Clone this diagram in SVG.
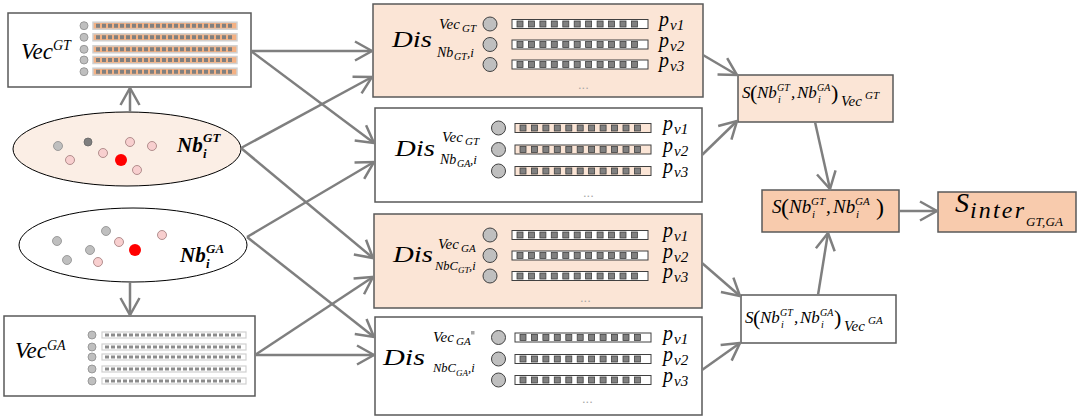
<svg xmlns="http://www.w3.org/2000/svg" xmlns:xlink="http://www.w3.org/1999/xlink" width="1079" height="417" viewBox="0 0 1079 417">
<style>
.bx{stroke:#595959;stroke-width:1.5}
.lt{fill:#FBE5D6}
.dk{fill:#F8CBAD}
.wh{fill:#FFFFFF}
.m{font-family:"Liberation Serif","DejaVu Serif",serif;font-style:italic;fill:#000}
.up{font-style:normal}
.bd{font-weight:bold}
.cn{fill:none;stroke:#7F7F7F;stroke-width:2.5;marker-end:url(#ah)}
.dots{font-family:"Liberation Sans",sans-serif;font-size:13px;fill:#A6A6A6}
.pc{fill:#BFBFBF;stroke:#404040;stroke-width:1}
.cell{fill:#808080;stroke:#404040;stroke-width:0.8}
.pk{fill:#F8CFCF;stroke:#A07878;stroke-width:0.8}
.gy{fill:#BFBFBF;stroke:#8C8C8C;stroke-width:0.8}
.dg{fill:#7F7F7F;stroke:#666666;stroke-width:0.8}
.rd{fill:#FF0000}
.p{font-size:20px}
.v{font-size:15px}
</style>
<defs>
<marker id="ah" markerUnits="userSpaceOnUse" viewBox="-20 -12 22 24" refX="0" refY="0" markerWidth="22" markerHeight="24" orient="auto">
<path d="M-17,-9.5 L0,0 L-17,9.5" fill="none" stroke="#7F7F7F" stroke-width="2.5"/>
</marker>
<!-- distance bar: 11 cells, frame fill taken from the <use> -->
<g id="bar">
<rect x="0" y="0" width="136" height="9" stroke="#404040" stroke-width="1"/>
<rect class="cell" x="5" y="1.5" width="6" height="6"/>
<rect class="cell" x="16.4" y="1.5" width="6" height="6"/>
<rect class="cell" x="27.9" y="1.5" width="6" height="6"/>
<rect class="cell" x="39.3" y="1.5" width="6" height="6"/>
<rect class="cell" x="50.8" y="1.5" width="6" height="6"/>
<rect class="cell" x="62.2" y="1.5" width="6" height="6"/>
<rect class="cell" x="73.6" y="1.5" width="6" height="6"/>
<rect class="cell" x="85.1" y="1.5" width="6" height="6"/>
<rect class="cell" x="96.5" y="1.5" width="6" height="6"/>
<rect class="cell" x="108" y="1.5" width="6" height="6"/>
<rect class="cell" x="119.4" y="1.5" width="6" height="6"/>
</g>
<!-- feature vector strip (orange) -->
<g id="vbar">
<rect x="0" y="0" width="144" height="7" fill="#F4B183" stroke="#D0D0D0" stroke-width="1.5"/>
<line x1="3" y1="3.5" x2="141" y2="3.5" stroke="#808080" stroke-width="4" stroke-dasharray="4 2"/>
</g>
<!-- feature vector strip (plain) -->
<g id="gbar">
<rect x="0" y="0" width="144" height="6" fill="#FFFFFF" stroke="#D0D0D0" stroke-width="1.2"/>
<line x1="3" y1="3" x2="141" y2="3" stroke="#8C8C8C" stroke-width="3" stroke-dasharray="4 2"/>
</g>
</defs>

<rect width="1079" height="417" fill="#FFFFFF"/>

<!-- Vec GT -->
<g id="vec-gt">
<rect class="bx wh" x="8" y="13" width="243" height="74"/>
<text class="m" font-size="23"><tspan x="21" y="59">Vec</tspan><tspan x="53" y="50" font-size="14">GT</tspan></text>
<circle class="gy" cx="84" cy="25.7" r="4"/>
<circle class="gy" cx="84" cy="37.3" r="4"/>
<circle class="gy" cx="84" cy="49.3" r="4"/>
<circle class="gy" cx="84" cy="60" r="4"/>
<circle class="gy" cx="84" cy="71.7" r="4"/>
<use xlink:href="#vbar" x="93" y="22.2"/>
<use xlink:href="#vbar" x="93" y="33.8"/>
<use xlink:href="#vbar" x="93" y="45.8"/>
<use xlink:href="#vbar" x="93" y="56.5"/>
<use xlink:href="#vbar" x="93" y="68.2"/>
</g>

<!-- Nb GT -->
<g id="nb-gt">
<ellipse cx="127" cy="149" rx="114" ry="37" fill="#FBEEE5" stroke="#000" stroke-width="1"/>
<circle class="gy" cx="58" cy="146" r="4.5"/>
<circle class="dg" cx="88" cy="142" r="4"/>
<circle class="pk" cx="70" cy="160" r="4.5"/>
<circle class="pk" cx="103" cy="153" r="4.5"/>
<circle class="pk" cx="130" cy="142" r="4.5"/>
<circle class="pk" cx="152" cy="146" r="4.5"/>
<circle class="pk" cx="137" cy="170" r="4.5"/>
<circle class="rd" cx="121" cy="160" r="6"/>
<text class="m bd" font-size="21"><tspan x="177" y="152">Nb</tspan><tspan x="203" y="142" font-size="13">GT</tspan><tspan x="203" y="158" font-size="13">i</tspan></text>
</g>

<!-- Nb GA -->
<g id="nb-ga">
<ellipse cx="133" cy="245" rx="114" ry="37" fill="#FFFFFF" stroke="#000" stroke-width="1"/>
<circle class="gy" cx="57" cy="241" r="4.5"/>
<circle class="gy" cx="106" cy="231" r="4.5"/>
<circle class="pk" cx="119" cy="242" r="4.5"/>
<circle class="gy" cx="90" cy="250" r="4.5"/>
<circle class="gy" cx="67" cy="260" r="4.5"/>
<circle class="pk" cx="98" cy="262" r="4.5"/>
<circle class="pk" cx="162" cy="235" r="4.5"/>
<circle class="rd" cx="135" cy="250" r="6"/>
<text class="m bd" font-size="21"><tspan x="180" y="262">Nb</tspan><tspan x="206" y="253" font-size="13">GA</tspan><tspan x="206" y="268" font-size="13">i</tspan></text>
</g>

<!-- Vec GA -->
<g id="vec-ga">
<rect class="bx wh" x="4" y="316" width="251" height="80"/>
<text class="m" font-size="23"><tspan x="15" y="358">Vec</tspan><tspan x="47" y="350" font-size="14">GA</tspan></text>
<circle class="gy" cx="92" cy="335" r="4"/>
<circle class="gy" cx="92" cy="347" r="4"/>
<circle class="gy" cx="92" cy="357" r="4"/>
<circle class="gy" cx="92" cy="369" r="4"/>
<circle class="gy" cx="92" cy="381" r="4"/>
<use xlink:href="#gbar" x="102" y="332"/>
<use xlink:href="#gbar" x="102" y="344"/>
<use xlink:href="#gbar" x="102" y="354"/>
<use xlink:href="#gbar" x="102" y="366"/>
<use xlink:href="#gbar" x="102" y="378"/>
</g>

<!-- Distance block 1 -->
<g id="dis-gt-gt">
<rect class="bx lt" x="373" y="4" width="330" height="93"/>
<text class="m"><tspan x="392" y="47" font-size="24" textLength="40" lengthAdjust="spacingAndGlyphs">Dis</tspan><tspan x="439" y="29" font-size="15">Vec</tspan><tspan x="462" y="32" font-size="11">GT</tspan><tspan x="437" y="57" font-size="14">Nb</tspan><tspan x="454" y="60" font-size="10">GT</tspan><tspan x="467" y="57" font-size="13">,i</tspan></text>
<circle class="pc" cx="490" cy="24" r="7"/>
<circle class="pc" cx="490" cy="44.5" r="7"/>
<circle class="pc" cx="490" cy="64.5" r="7"/>
<use xlink:href="#bar" x="512" y="19.5" fill="#FFFFFF"/>
<use xlink:href="#bar" x="512" y="40" fill="#FFFFFF"/>
<use xlink:href="#bar" x="512" y="60" fill="#FFFFFF"/>
<text class="m"><tspan class="p" x="659" y="26">p</tspan><tspan class="v" x="670" y="30">v1</tspan></text>
<text class="m"><tspan class="p" x="659" y="46.5">p</tspan><tspan class="v" x="670" y="50.5">v2</tspan></text>
<text class="m"><tspan class="p" x="659" y="66.5">p</tspan><tspan class="v" x="670" y="70.5">v3</tspan></text>
<text class="dots" x="578" y="89">...</text>
</g>

<!-- Distance block 2 -->
<g id="dis-gt-ga">
<rect class="bx wh" x="375" y="108" width="327" height="94"/>
<text class="m"><tspan x="395" y="156" font-size="24" textLength="40" lengthAdjust="spacingAndGlyphs">Dis</tspan><tspan x="442" y="142" font-size="15">Vec</tspan><tspan x="465" y="145" font-size="11">GT</tspan><tspan x="440" y="164" font-size="14">Nb</tspan><tspan x="457" y="167" font-size="10">GA</tspan><tspan x="470" y="164" font-size="13">,i</tspan></text>
<circle class="pc" cx="498.5" cy="128" r="7"/>
<circle class="pc" cx="498.5" cy="149.5" r="7"/>
<circle class="pc" cx="498.5" cy="171" r="7"/>
<use xlink:href="#bar" x="515" y="123.5" fill="#FBE5D6"/>
<use xlink:href="#bar" x="515" y="145" fill="#FBE5D6"/>
<use xlink:href="#bar" x="515" y="166.5" fill="#FBE5D6"/>
<text class="m"><tspan class="p" x="663" y="130">p</tspan><tspan class="v" x="674" y="134">v1</tspan></text>
<text class="m"><tspan class="p" x="663" y="151.5">p</tspan><tspan class="v" x="674" y="155.5">v2</tspan></text>
<text class="m"><tspan class="p" x="663" y="173">p</tspan><tspan class="v" x="674" y="177">v3</tspan></text>
<text class="dots" x="583" y="197">...</text>
</g>

<!-- Distance block 3 -->
<g id="dis-ga-gt">
<rect class="bx lt" x="374" y="214" width="328" height="94"/>
<text class="m"><tspan x="393" y="262" font-size="24" textLength="40" lengthAdjust="spacingAndGlyphs">Dis</tspan><tspan x="438" y="249" font-size="15">Vec</tspan><tspan x="461" y="252" font-size="11">GA</tspan><tspan x="435" y="270" font-size="12.5">NbC</tspan><tspan x="458" y="273" font-size="9">GT</tspan><tspan x="469" y="270" font-size="12.5">,i</tspan></text>
<circle class="pc" cx="490" cy="235" r="7"/>
<circle class="pc" cx="490" cy="255.5" r="7"/>
<circle class="pc" cx="490" cy="276" r="7"/>
<use xlink:href="#bar" x="512" y="230.5" fill="#FFFFFF"/>
<use xlink:href="#bar" x="512" y="251" fill="#FFFFFF"/>
<use xlink:href="#bar" x="512" y="271.5" fill="#FFFFFF"/>
<text class="m"><tspan class="p" x="663" y="237">p</tspan><tspan class="v" x="674" y="241">v1</tspan></text>
<text class="m"><tspan class="p" x="663" y="257.5">p</tspan><tspan class="v" x="674" y="261.5">v2</tspan></text>
<text class="m"><tspan class="p" x="663" y="278">p</tspan><tspan class="v" x="674" y="282">v3</tspan></text>
<text class="dots" x="580" y="302">...</text>
</g>

<!-- Distance block 4 -->
<g id="dis-ga-ga">
<rect class="bx wh" x="375" y="317" width="327" height="98"/>
<text class="m"><tspan x="383" y="365" font-size="24" textLength="42" lengthAdjust="spacingAndGlyphs">Dis</tspan><tspan x="433" y="342" font-size="15">Vec</tspan><tspan x="456" y="345" font-size="11">GA</tspan><tspan x="433" y="372" font-size="12.5">NbC</tspan><tspan x="456" y="376" font-size="9">GA</tspan><tspan x="468" y="372" font-size="12.5">,i</tspan></text>
<rect x="471" y="331" width="3.5" height="3.5" fill="#A6A6A6"/>
<circle class="pc" cx="498.5" cy="337.5" r="7"/>
<circle class="pc" cx="498.5" cy="359" r="7"/>
<circle class="pc" cx="498.5" cy="380" r="7"/>
<use xlink:href="#bar" x="515" y="333" fill="#FFFFFF"/>
<use xlink:href="#bar" x="515" y="354.5" fill="#FFFFFF"/>
<use xlink:href="#bar" x="515" y="375.5" fill="#FFFFFF"/>
<text class="m"><tspan class="p" x="663" y="339.5">p</tspan><tspan class="v" x="674" y="343.5">v1</tspan></text>
<text class="m"><tspan class="p" x="663" y="361">p</tspan><tspan class="v" x="674" y="365">v2</tspan></text>
<text class="m"><tspan class="p" x="663" y="382">p</tspan><tspan class="v" x="674" y="386">v3</tspan></text>
<text class="dots" x="582" y="403">...</text>
</g>

<!-- Similarity under Vec GT -->
<g id="s-vecgt">
<rect class="bx lt" x="738" y="75" width="155" height="47"/>
<text class="m" font-size="17"><tspan x="742" y="98">S</tspan><tspan class="up" x="750" y="100" font-size="22">(</tspan><tspan x="757" y="98">Nb</tspan><tspan x="777" y="91" font-size="10">GT</tspan><tspan x="778" y="103" font-size="10">i</tspan><tspan x="791" y="98">,</tspan><tspan x="797" y="98">Nb</tspan><tspan x="817" y="91" font-size="10">GA</tspan><tspan x="818" y="103" font-size="10">i</tspan><tspan class="up" x="831" y="100" font-size="22">)</tspan><tspan x="841" y="106" font-size="15">Vec</tspan><tspan x="865" y="99" font-size="11">GT</tspan></text>
</g>

<!-- Similarity under Vec GA -->
<g id="s-vecga">
<rect class="bx wh" x="741" y="295" width="155" height="48"/>
<text class="m" font-size="17"><tspan x="745" y="323">S</tspan><tspan class="up" x="753" y="325" font-size="22">(</tspan><tspan x="760" y="323">Nb</tspan><tspan x="780" y="316" font-size="10">GT</tspan><tspan x="781" y="328" font-size="10">i</tspan><tspan x="794" y="323">,</tspan><tspan x="800" y="323">Nb</tspan><tspan x="820" y="316" font-size="10">GA</tspan><tspan x="821" y="328" font-size="10">i</tspan><tspan class="up" x="834" y="325" font-size="22">)</tspan><tspan x="844" y="331" font-size="15">Vec</tspan><tspan x="868" y="324" font-size="11">GA</tspan></text>
</g>

<!-- Combined similarity -->
<g id="s-total">
<rect class="bx dk" x="762" y="190" width="137" height="42"/>
<text class="m" font-size="19"><tspan x="772" y="213">S</tspan><tspan class="up" x="781" y="215" font-size="24">(</tspan><tspan x="789" y="213">Nb</tspan><tspan x="811" y="205" font-size="11">GT</tspan><tspan x="812" y="218" font-size="11">i</tspan><tspan x="826" y="213">,</tspan><tspan x="833" y="213">Nb</tspan><tspan x="855" y="205" font-size="11">GA</tspan><tspan x="856" y="218" font-size="11">i</tspan><tspan class="up" x="876" y="215" font-size="24">)</tspan></text>
</g>

<!-- Inter similarity -->
<g id="s-inter">
<rect class="bx dk" x="938" y="192" width="138" height="40"/>
<text class="m"><tspan x="955" y="212" font-size="28">S</tspan><tspan x="970" y="218" font-size="24" textLength="54">inter</tspan><tspan x="1026" y="226" font-size="13" textLength="37">GT,GA</tspan></text>
</g>

<g id="connectors">
<line class="cn" x1="130" y1="112" x2="130" y2="88"/>
<line class="cn" x1="130" y1="282" x2="130" y2="315"/>
<line class="cn" x1="251" y1="51" x2="372" y2="51"/>
<line class="cn" x1="251" y1="51" x2="374" y2="143"/>
<line class="cn" x1="241" y1="148" x2="372" y2="77"/>
<line class="cn" x1="241" y1="148" x2="373" y2="258"/>
<line class="cn" x1="247" y1="237" x2="374" y2="162"/>
<line class="cn" x1="247" y1="237" x2="374" y2="337"/>
<line class="cn" x1="255" y1="355" x2="373" y2="277"/>
<line class="cn" x1="255" y1="355" x2="374" y2="355"/>
<line class="cn" x1="703" y1="55" x2="737" y2="75"/>
<line class="cn" x1="702" y1="155" x2="737" y2="121"/>
<line class="cn" x1="702" y1="263" x2="740" y2="296"/>
<line class="cn" x1="702" y1="370" x2="740" y2="343"/>
<line class="cn" x1="815" y1="122" x2="830" y2="189"/>
<line class="cn" x1="818" y1="295" x2="828" y2="233"/>
<line class="cn" x1="899" y1="211" x2="937" y2="211"/>
</g>
</svg>
